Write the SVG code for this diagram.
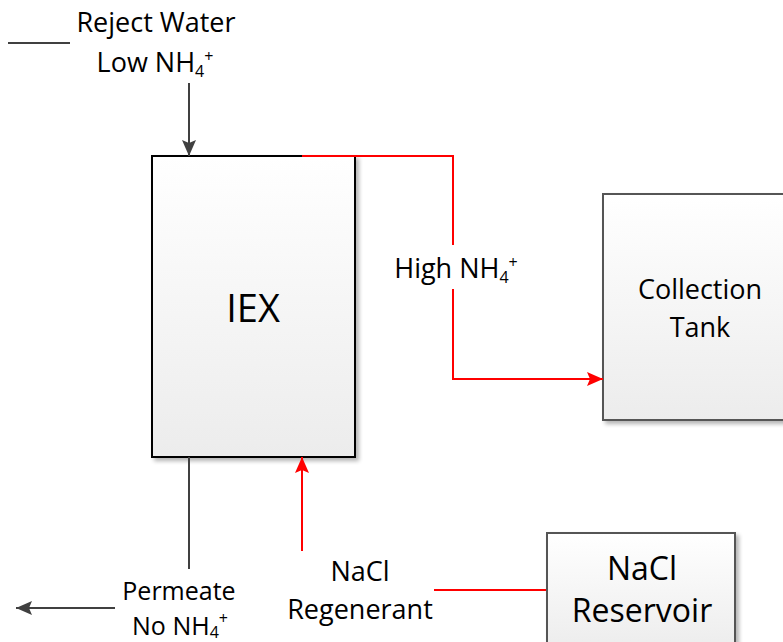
<svg xmlns="http://www.w3.org/2000/svg" width="783" height="642" viewBox="0 0 783 642">
<style>
text{font-family:"Open Sans","Liberation Sans",sans-serif;fill:#000;text-anchor:middle}
.t{font-size:27px}
.p{font-size:25px}
.iex{font-size:38px}
.big{font-size:32px}
.sub{font-size:16px}
.box{fill:url(#g);stroke-width:2}
.dk{stroke:#404040;stroke-width:2;fill:none}
.rd{stroke:#ff0000;stroke-width:2;fill:none}
</style>
<defs>
<linearGradient id="g" x1="0" y1="0" x2="0" y2="1">
<stop offset="0" stop-color="#ffffff"/>
<stop offset="1" stop-color="#ececec"/>
</linearGradient>
<filter id="sh" x="-10%" y="-10%" width="130%" height="130%">
<feGaussianBlur in="SourceAlpha" stdDeviation="2"/>
<feOffset dx="3" dy="3" result="b"/>
<feComponentTransfer><feFuncA type="linear" slope="0.3"/></feComponentTransfer>
<feMerge><feMergeNode/><feMergeNode in="SourceGraphic"/></feMerge>
</filter>
<marker id="ad" markerWidth="16" markerHeight="14" refX="16" refY="7" orient="auto" markerUnits="userSpaceOnUse" viewBox="0 0 16 14">
<path d="M0,0 L16,7 L0,14 L3,7 Z" fill="#404040"/>
</marker>
<marker id="ar" markerWidth="16" markerHeight="14" refX="16" refY="7" orient="auto" markerUnits="userSpaceOnUse" viewBox="0 0 16 14">
<path d="M0,0 L16,7 L0,14 L3,7 Z" fill="#ff0000"/>
</marker>
</defs>

<g id="iex">
<rect class="box" x="152" y="156" width="203" height="301" stroke="#000" filter="url(#sh)"/>
<text class="iex" x="253" y="322">IEX</text>
</g>

<g id="collection-tank">
<rect class="box" x="603" y="194" width="190" height="226" stroke="#555" filter="url(#sh)"/>
<text class="t" x="700" y="299">Collection</text>
<text class="t" x="700" y="337">Tank</text>
</g>

<g id="nacl-reservoir">
<rect class="box" x="547" y="533" width="188" height="120" stroke="#555" filter="url(#sh)"/>
<text class="big" x="642" y="580">NaCl</text>
<text class="big" x="642" y="622">Reservoir</text>
</g>

<g id="connectors">
<line class="dk" x1="8" y1="43" x2="70" y2="43"/>
<line class="dk" x1="189" y1="83" x2="189" y2="156" marker-end="url(#ad)"/>
<polyline class="rd" points="302,156 453,156 453,245"/>
<polyline class="rd" points="453,289 453,379 603,379" marker-end="url(#ar)"/>
<line class="rd" x1="302" y1="551" x2="302" y2="457" marker-end="url(#ar)"/>
<line class="rd" x1="434" y1="590" x2="546" y2="590"/>
<line class="dk" x1="189" y1="457" x2="189" y2="569"/>
<line class="dk" x1="115" y1="608" x2="16" y2="608" marker-end="url(#ad)"/>
</g>

<g id="labels">
<text class="t" x="156" y="32">Reject Water</text>
<text class="t" x="155" y="72">Low NH<tspan class="sub" dy="5">4</tspan><tspan class="sub" dy="-15">+</tspan></text>
<text class="t" x="456" y="278">High NH<tspan class="sub" dy="5">4</tspan><tspan class="sub" dy="-15">+</tspan></text>
<text class="p" x="179" y="600">Permeate</text>
<text class="p" x="180" y="635">No NH<tspan class="sub" dy="3">4</tspan><tspan class="sub" dy="-14">+</tspan></text>
<text class="t" x="360" y="581">NaCl</text>
<text class="t" x="360" y="619">Regenerant</text>
</g>
</svg>
